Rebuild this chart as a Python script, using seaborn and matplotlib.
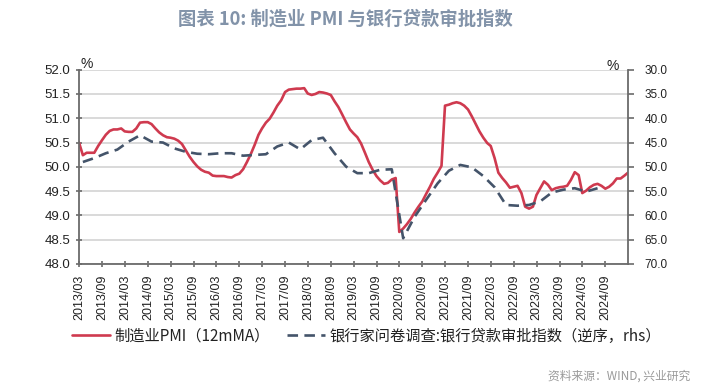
import pandas as pd
import matplotlib
matplotlib.use('Agg')
import matplotlib.pyplot as plt
import seaborn as sns

# 制造业PMI 12个月移动平均（月度，左轴）
pmi_values = [
    50.50, 50.24, 50.29, 50.29, 50.29, 50.43, 50.55, 50.66, 50.74, 50.77, 50.77, 50.79,
    50.73, 50.72, 50.72, 50.79, 50.91, 50.92, 50.92, 50.88, 50.79, 50.71, 50.65, 50.61,
    50.60, 50.58, 50.54, 50.47, 50.34, 50.21, 50.10, 50.01, 49.94, 49.90, 49.88, 49.82,
    49.81, 49.81, 49.81, 49.79, 49.78, 49.83, 49.86, 49.95, 50.10, 50.26, 50.45, 50.66,
    50.79, 50.91, 50.99, 51.12, 51.26, 51.37, 51.54, 51.59, 51.60, 51.61, 51.61, 51.62,
    51.51, 51.48, 51.50, 51.54, 51.53, 51.51, 51.48, 51.35, 51.23, 51.08, 50.92, 50.77,
    50.69, 50.61, 50.48, 50.29, 50.10, 49.94, 49.81, 49.72, 49.65, 49.67, 49.74, 49.77,
    48.66, 48.73, 48.82, 48.93, 49.06, 49.18, 49.29, 49.44, 49.59, 49.75, 49.88, 50.02,
    51.26, 51.28, 51.31, 51.33, 51.31, 51.26, 51.18, 51.04, 50.88, 50.73, 50.60, 50.49,
    50.43, 50.18, 49.88, 49.77, 49.68, 49.57, 49.59, 49.61, 49.46, 49.18, 49.14, 49.18,
    49.42, 49.56, 49.70, 49.63, 49.52, 49.56, 49.58, 49.59, 49.61, 49.73, 49.89, 49.83,
    49.46, 49.51, 49.58, 49.63, 49.65, 49.61, 49.55, 49.59, 49.66, 49.76, 49.76, 49.82,
    49.88,
]

# 银行家问卷调查：银行贷款审批指数（季度，右轴逆序）
approval_values = [
    49.0, 48.2, 47.2, 46.45, 44.8, 43.5, 44.8, 45.0, 46.2, 46.9, 47.3, 47.4,
    47.2, 47.2, 47.7, 47.55, 47.4, 45.8, 45.0, 46.4, 44.5, 44.0, 47.2, 49.95,
    51.3, 51.3, 50.6, 50.5, 64.7, 60.3, 56.8, 53.4, 50.8, 49.6, 50.1, 51.9,
    54.2, 57.85, 58.0, 57.85, 57.1, 55.3, 54.7, 54.4, 55.1, 54.4,
]

left_ticks = [48.0, 48.5, 49.0, 49.5, 50.0, 50.5, 51.0, 51.5, 52.0]
right_ticks = [30, 35, 40, 45, 50, 55, 60, 65, 70]

pmi_dates = pd.date_range('2013-03-01', periods=len(pmi_values), freq='MS') - pd.Timedelta(days=1)
approval_dates = pd.date_range('2013-04-01', periods=len(approval_values), freq='3MS') - pd.Timedelta(days=1)
tick_dates = pd.date_range('2013-03-01', '2024-09-01', freq='6MS')
tick_labels = [d.strftime('%Y/%m') for d in tick_dates]

RED = '#cf3a4f'
NAVY = '#44546a'
AXIS = '#6b6b6b'

sns.set_theme(style='white')
plt.rcParams['font.family'] = ['Liberation Sans', 'Noto Sans CJK SC', 'DejaVu Sans']
cjk = ['Noto Sans CJK SC', 'DejaVu Sans']

fig, ax = plt.subplots(figsize=(7.28, 3.89), dpi=100)
fig.subplots_adjust(left=79 / 728, right=628 / 728, top=1 - 69.7 / 389, bottom=1 - 264 / 389)
ax2 = ax.twinx()

sns.lineplot(x=pmi_dates, y=pmi_values, ax=ax, color=RED, lw=1.9,
             label='制造业PMI（12mMA）')
sns.lineplot(x=approval_dates, y=approval_values, ax=ax2, color=NAVY, lw=1.9,
             linestyle=(0, (4.0, 2.4)), label='银行家问卷调查:银行贷款审批指数（逆序，rhs）')

ax.set_xlim(pmi_dates[0], pmi_dates[-1])
ax.set_ylim(48, 52)
ax.set_yticks(left_ticks)
ax.set_yticklabels([f'{v:.1f}' for v in left_ticks])
ax2.set_ylim(70, 30)
ax2.set_yticks(right_ticks)
ax2.set_yticklabels([f'{v:.1f}' for v in right_ticks])

ax.set_xticks(tick_dates)
ax.set_xticklabels(tick_labels, rotation=90)
ax.set_xlabel('')
ax.set_ylabel('')
ax2.set_ylabel('')

ax.yaxis.grid(True, color='#d9d9d9', lw=1.4)
ax.xaxis.grid(False)
ax.set_axisbelow(True)

for a in (ax, ax2):
    for s in a.spines.values():
        s.set_visible(False)
ax.spines['left'].set_visible(True)
ax.spines['bottom'].set_visible(True)
ax2.spines['right'].set_visible(True)
for s in (ax.spines['left'], ax.spines['bottom'], ax2.spines['right']):
    s.set_color(AXIS)
    s.set_linewidth(1.3)

ax.tick_params(axis='y', direction='inout', length=5, width=1.2, color=AXIS,
               labelsize=9.5, labelcolor='#222222', pad=4, left=True)
ax.tick_params(axis='x', direction='inout', length=5, width=1.2, color=AXIS,
               labelsize=9, labelcolor='#222222', pad=5, bottom=True)
ax2.tick_params(axis='y', direction='out', length=4, width=1.2, color=AXIS,
                labelsize=8.5, labelcolor='#222222', pad=8, right=True)

fig.text(87 / 728, 1 - 64 / 389, '%', fontsize=10, ha='center', va='center', color='#222222')
fig.text(613 / 728, 1 - 66 / 389, '%', fontsize=10, ha='center', va='center', color='#222222')

h1, l1 = ax.get_legend_handles_labels()
h2, l2 = ax2.get_legend_handles_labels()
for a in (ax, ax2):
    if a.get_legend() is not None:
        a.get_legend().remove()
fig.legend(h1 + h2, l1 + l2, loc='center left', bbox_to_anchor=(72 / 728, 1 - 336 / 389),
           ncol=2, frameon=False, prop={'family': cjk, 'size': 11},
           handlelength=2.5, handletextpad=0.3, columnspacing=1.1,
           borderpad=0, borderaxespad=0, labelcolor='#222222')

fig.text(345 / 728, 1 - 19 / 389, '图表 10: 制造业 PMI 与银行贷款审批指数', family=cjk,
         fontsize=13.2, fontweight='bold', color='#8293a9', ha='center', va='center')
fig.text(690 / 728, 1 - 376 / 389, '资料来源：WIND, 兴业研究', family=cjk,
         fontsize=8.5, color='#9a9a9a', ha='right', va='center')

fig.savefig('out.png', dpi=100)
